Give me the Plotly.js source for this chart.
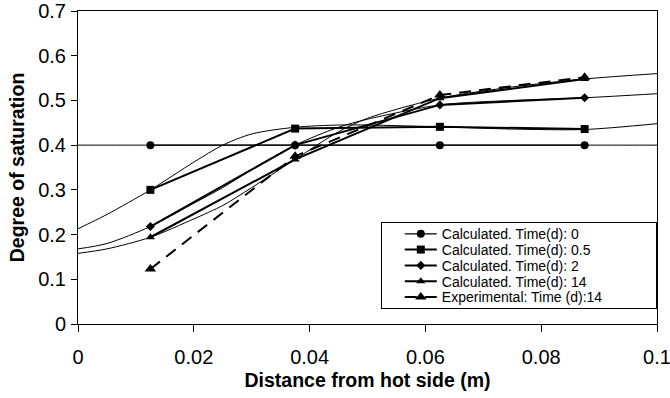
<!DOCTYPE html>
<html>
<head>
<meta charset="utf-8">
<script src="https://cdn.plot.ly/plotly-3.0.1.min.js"></script>
<style>html,body{margin:0;padding:0;background:#fff;}#chart{width:670px;height:398px;}</style>
</head>
<body>
<div id="chart"></div>
<script>
// Sampled positions (m)
const xPts = [0.0125, 0.0375, 0.0625, 0.0875];
const calc0 = [0.40, 0.40, 0.40, 0.40];
const calc05 = [0.30, 0.437, 0.441, 0.436];
const calc2 = [0.218, 0.40, 0.49, 0.506];
const calc14 = [0.194, 0.368, 0.505, 0.548];
const exp14 = [0.123, 0.375, 0.512, 0.552];

// Continuous calculated profiles
const xCurve = [0, 0.005, 0.0125, 0.02, 0.025, 0.03, 0.0375, 0.045, 0.05, 0.0625, 0.075, 0.0875, 0.1];
const curve0 = [0.40, 0.40, 0.40, 0.40, 0.40, 0.40, 0.40, 0.40, 0.40, 0.40, 0.40, 0.40, 0.40];
const curve05 = [0.213, 0.245, 0.30, 0.362, 0.40, 0.425, 0.44, 0.445, 0.445, 0.441, 0.436, 0.435, 0.448];
const curve2 = [0.168, 0.18, 0.218, 0.27, 0.305, 0.345, 0.40, 0.44, 0.458, 0.49, 0.5, 0.506, 0.515];
const curve14 = [0.158, 0.168, 0.194, 0.235, 0.265, 0.305, 0.368, 0.43, 0.46, 0.505, 0.53, 0.548, 0.56];

const yTickVals = [0, 0.1, 0.2, 0.3, 0.4, 0.5, 0.6, 0.7];
const yTickText = ['0', '0.1', '0.2', '0.3', '0.4', '0.5', '0.6', '0.7'];
const xTickVals = [0, 0.02, 0.04, 0.06, 0.08, 0.1];
const xTickText = ['0', '0.02', '0.04', '0.06', '0.08', '0.1'];

const names = ['Calculated. Time(d): 0', 'Calculated. Time(d): 0.5', 'Calculated. Time(d): 2', 'Calculated. Time(d): 14', 'Experimental: Time (d):14'];

const thin = {color: '#000', width: 1, shape: 'spline', smoothing: 0.8};
const traces = [
  {x: xCurve, y: curve0, mode: 'lines', line: thin, showlegend: false, hoverinfo: 'skip'},
  {x: xCurve, y: curve05, mode: 'lines', line: thin, showlegend: false, hoverinfo: 'skip'},
  {x: xCurve, y: curve2, mode: 'lines', line: thin, showlegend: false, hoverinfo: 'skip'},
  {x: xCurve, y: curve14, mode: 'lines', line: thin, showlegend: false, hoverinfo: 'skip'},
  {x: xPts, y: calc0, name: names[0], mode: 'lines+markers', line: {color: '#000', width: 1.2}, marker: {symbol: 'circle', size: 8, color: '#000'}},
  {x: xPts, y: calc05, name: names[1], mode: 'lines+markers', line: {color: '#000', width: 2}, marker: {symbol: 'square', size: 8, color: '#000'}},
  {x: xPts, y: calc2, name: names[2], mode: 'lines+markers', line: {color: '#000', width: 2}, marker: {symbol: 'diamond', size: 7, color: '#000'}},
  {x: xPts, y: calc14, name: names[3], mode: 'lines+markers', line: {color: '#000', width: 2}, marker: {symbol: 'triangle-up', size: 8, color: '#000'}},
  {x: xPts, y: exp14, name: names[4], mode: 'lines+markers', line: {color: '#000', width: 2, dash: '12px,8px'}, marker: {symbol: 'triangle-up', size: 10, color: '#000'}}
];

const layout = {
  width: 670, height: 398,
  margin: {l: 78, r: 13, t: 11, b: 74},
  paper_bgcolor: '#fff', plot_bgcolor: '#fff',
  font: {family: '"Liberation Sans", Arial, sans-serif', color: '#000', size: 19},
  showlegend: true,
  legend: {
    x: 0.523, xanchor: 'left', y: 0.325, yanchor: 'top',
    bgcolor: '#fff', bordercolor: '#000', borderwidth: 1,
    font: {size: 14, color: '#000'}, itemwidth: 32, tracegroupgap: 0
  },
  xaxis: {
    range: [0, 0.1], tickvals: xTickVals, ticktext: xTickText,
    showgrid: false, zeroline: false, showline: true, linecolor: '#000', linewidth: 1, mirror: true,
    ticks: 'outside', ticklen: 7, tickcolor: '#000', ticklabelstandoff: 8, ticklabeloverflow: 'allow',
    tickfont: {size: 20},
    title: {text: '<b>Distance from hot side (m)</b>', font: {size: 19.5}, standoff: 6}
  },
  yaxis: {
    range: [0, 0.7], tickvals: yTickVals, ticktext: yTickText,
    showgrid: false, zeroline: false, showline: true, linecolor: '#000', linewidth: 1, mirror: true,
    ticks: 'outside', ticklen: 6, tickcolor: '#000', ticklabelstandoff: 1,
    tickfont: {size: 20},
    title: {text: '<b>Degree of saturation</b>', font: {size: 19.5}, standoff: 8}
  }
};

Plotly.newPlot('chart', traces, layout, {displayModeBar: false, staticPlot: true}).then(function (gd) {
  // tighten legend rows toward the reference's compact spacing
  const leg = gd.querySelector('g.legend');
  if (!leg) return;
  const bg = leg.querySelector('rect.bg');
  const box = leg.querySelector('.scrollbox');
  if (box) box.removeAttribute('clip-path');
  const items = leg.querySelectorAll('g.traces');
  items.forEach(function (t, i) {
    t.setAttribute('transform', 'translate(19,' + (11.5 + 15.8 * i) + ')');
  });
  if (bg) { bg.setAttribute('width', 275); bg.setAttribute('height', 86); }
});
</script>
</body>
</html>
